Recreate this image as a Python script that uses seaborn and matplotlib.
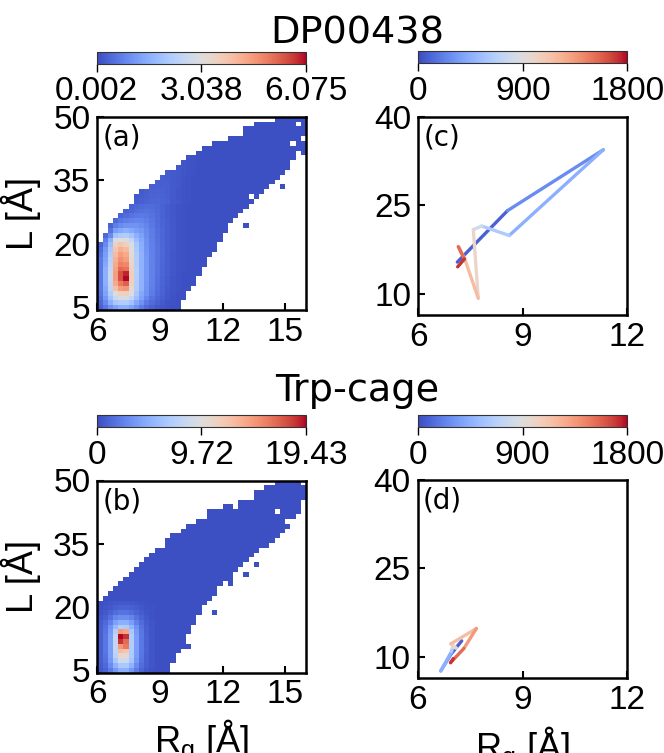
import numpy as np
import pandas as pd
import matplotlib
matplotlib.use("Agg")
import matplotlib.pyplot as plt
from matplotlib.colors import Normalize
from matplotlib.cm import ScalarMappable
import seaborn as sns

# ---------------- data ----------------
# 2D histogram layout: 40 x 40 bins, Rg 6..16, L 4.4..50
RG_RANGE = (6.0, 16.0)
L_RANGE = (4.4, 50.0)
NBINS = 40

# panel (a) DP00438: occupied band per Rg column (upper / lower L edge)
A_TOP = [20.1, 22.5, 24.5, 25.6, 27.6, 28.8, 30.0, 31.2, 32.4, 33.2, 34.4, 35.2, 36.0, 37.1,
         38.0, 39.0, 39.9, 40.7, 40.7, 41.9, 43.0, 43.0, 44.7, 44.7, 44.7, 45.9, 45.9, 45.9,
         47.2, 47.2, 48.3, 48.3, 49.4, 49.4, 50.0, 50.0, 50.0, 50.0, 50.0, 50.0]
A_LOW = [4.4, 4.4, 4.4, 4.4, 4.4, 4.4, 4.4, 4.4, 4.4, 4.4, 4.4, 4.4, 4.4, 4.4, 4.4, 4.4,
         7.0, 9.0, 10.5, 13.0, 15.0, 17.0, 18.5, 20.5, 23.0, 24.5, 26.0, 27.0, 28.5, 29.5,
         30.5, 32.0, 33.0, 33.5, 35.0, 36.5, 38.0, 40.0, 42.0, 41.0]
A_BASE = 0.06
# density near the peak and along the ridge (rows = L bins from bottom, cols = Rg bins from 6.0)
A_CORE = [
    [0.30, 0.60, 1.00, 1.30, 1.50, 1.50, 1.30, 1.00, 0.70, 0.45, 0.30, 0.20, 0.13, 0.09, 0.06, 0.05, 0.06, 0.06, 0.06, 0.06],
    [0.40, 0.90, 1.50, 2.00, 2.20, 2.20, 1.90, 1.40, 1.00, 0.65, 0.45, 0.30, 0.20, 0.12, 0.08, 0.05, 0.06, 0.06, 0.06, 0.06],
    [0.50, 1.10, 1.90, 2.60, 2.90, 2.90, 2.50, 1.80, 1.30, 0.85, 0.55, 0.37, 0.24, 0.15, 0.09, 0.06, 0.06, 0.06, 0.06, 0.06],
    [0.60, 1.30, 2.20, 3.00, 3.50, 3.50, 3.00, 2.00, 1.40, 1.00, 0.68, 0.45, 0.30, 0.19, 0.11, 0.07, 0.06, 0.06, 0.06, 0.06],
    [0.65, 1.40, 2.40, 3.90, 4.50, 4.60, 3.30, 2.20, 1.55, 1.05, 0.72, 0.48, 0.32, 0.21, 0.13, 0.08, 0.07, 0.06, 0.06, 0.06],
    [0.65, 1.50, 2.50, 4.30, 5.00, 5.30, 3.50, 2.20, 1.55, 1.08, 0.74, 0.50, 0.34, 0.22, 0.14, 0.08, 0.07, 0.06, 0.06, 0.06],
    [0.65, 1.50, 2.60, 4.50, 5.50, 6.07, 3.60, 2.25, 1.58, 1.10, 0.76, 0.52, 0.35, 0.23, 0.14, 0.09, 0.07, 0.06, 0.06, 0.06],
    [0.65, 1.50, 2.60, 4.50, 5.50, 5.90, 3.60, 2.25, 1.58, 1.10, 0.77, 0.53, 0.36, 0.24, 0.15, 0.09, 0.07, 0.06, 0.06, 0.06],
    [0.65, 1.50, 2.50, 4.40, 5.20, 5.10, 3.50, 2.25, 1.58, 1.10, 0.78, 0.54, 0.37, 0.24, 0.15, 0.10, 0.08, 0.07, 0.06, 0.06],
    [0.65, 1.40, 2.40, 4.30, 4.90, 4.80, 3.40, 2.20, 1.57, 1.10, 0.78, 0.55, 0.38, 0.25, 0.16, 0.10, 0.08, 0.07, 0.06, 0.06],
    [0.65, 1.30, 2.30, 4.20, 4.70, 4.50, 3.30, 2.20, 1.56, 1.10, 0.78, 0.56, 0.38, 0.25, 0.16, 0.10, 0.08, 0.07, 0.06, 0.06],
    [0.55, 1.20, 2.20, 4.00, 4.50, 4.30, 3.20, 2.20, 1.55, 1.08, 0.77, 0.56, 0.39, 0.26, 0.16, 0.10, 0.08, 0.07, 0.06, 0.06],
    [0.45, 1.10, 2.00, 3.80, 4.20, 4.00, 3.10, 2.10, 1.52, 1.06, 0.76, 0.55, 0.39, 0.26, 0.17, 0.10, 0.08, 0.07, 0.06, 0.06],
    [0.35, 0.90, 1.80, 3.50, 3.80, 3.60, 2.90, 2.00, 1.48, 1.04, 0.75, 0.54, 0.38, 0.26, 0.17, 0.11, 0.08, 0.07, 0.06, 0.06],
    [0.25, 0.70, 1.50, 2.90, 3.00, 2.90, 2.50, 1.80, 1.40, 1.00, 0.73, 0.53, 0.38, 0.26, 0.17, 0.11, 0.08, 0.07, 0.06, 0.06],
    [0.20, 0.40, 0.90, 1.90, 2.10, 2.20, 1.90, 1.50, 1.25, 0.95, 0.70, 0.51, 0.37, 0.26, 0.17, 0.11, 0.08, 0.07, 0.06, 0.06],
    [0.15, 0.25, 0.55, 1.20, 1.40, 1.50, 1.40, 1.20, 1.10, 0.88, 0.67, 0.49, 0.36, 0.25, 0.17, 0.11, 0.08, 0.07, 0.06, 0.06],
    [0.10, 0.18, 0.35, 0.70, 0.90, 1.00, 1.00, 1.00, 0.95, 0.80, 0.62, 0.47, 0.35, 0.25, 0.17, 0.11, 0.08, 0.07, 0.06, 0.06],
    [0.08, 0.14, 0.20, 0.40, 0.60, 0.70, 0.78, 0.82, 0.80, 0.72, 0.58, 0.45, 0.34, 0.24, 0.16, 0.11, 0.08, 0.07, 0.06, 0.06],
    [0.06, 0.10, 0.16, 0.25, 0.35, 0.45, 0.55, 0.62, 0.66, 0.63, 0.54, 0.43, 0.33, 0.23, 0.16, 0.11, 0.08, 0.07, 0.06, 0.06],
    [0.06, 0.08, 0.12, 0.18, 0.22, 0.30, 0.38, 0.46, 0.52, 0.55, 0.50, 0.42, 0.32, 0.23, 0.16, 0.11, 0.08, 0.07, 0.06, 0.06],
    [0.06, 0.06, 0.10, 0.14, 0.18, 0.24, 0.30, 0.36, 0.42, 0.46, 0.45, 0.40, 0.31, 0.22, 0.15, 0.11, 0.08, 0.07, 0.06, 0.06],
    [0.06, 0.06, 0.08, 0.10, 0.14, 0.16, 0.18, 0.23, 0.28, 0.33, 0.38, 0.38, 0.35, 0.29, 0.21, 0.15, 0.11, 0.08, 0.07, 0.06],
    [0.06, 0.06, 0.06, 0.08, 0.10, 0.12, 0.14, 0.18, 0.23, 0.28, 0.32, 0.34, 0.32, 0.27, 0.20, 0.14, 0.10, 0.08, 0.07, 0.06],
    [0.06, 0.06, 0.06, 0.06, 0.08, 0.10, 0.12, 0.14, 0.20, 0.25, 0.29, 0.31, 0.30, 0.26, 0.20, 0.14, 0.10, 0.08, 0.07, 0.06],
    [0.06, 0.06, 0.06, 0.06, 0.06, 0.08, 0.10, 0.12, 0.15, 0.22, 0.26, 0.28, 0.28, 0.25, 0.20, 0.15, 0.11, 0.08, 0.07, 0.06],
    [0.06, 0.06, 0.06, 0.06, 0.06, 0.06, 0.08, 0.10, 0.12, 0.16, 0.23, 0.25, 0.26, 0.24, 0.20, 0.15, 0.11, 0.08, 0.07, 0.06],
    [0.06, 0.06, 0.06, 0.06, 0.06, 0.06, 0.06, 0.08, 0.10, 0.12, 0.16, 0.22, 0.24, 0.23, 0.20, 0.16, 0.12, 0.09, 0.07, 0.06],
    [0.06, 0.06, 0.06, 0.06, 0.06, 0.06, 0.06, 0.06, 0.08, 0.10, 0.12, 0.16, 0.21, 0.22, 0.20, 0.17, 0.13, 0.10, 0.08, 0.06],
    [0.06, 0.06, 0.06, 0.06, 0.06, 0.06, 0.06, 0.06, 0.06, 0.08, 0.10, 0.12, 0.16, 0.20, 0.19, 0.17, 0.14, 0.11, 0.08, 0.06],
    [0.06, 0.06, 0.06, 0.06, 0.06, 0.06, 0.06, 0.06, 0.06, 0.06, 0.08, 0.10, 0.12, 0.15, 0.18, 0.16, 0.14, 0.11, 0.09, 0.07],
    [0.06, 0.06, 0.06, 0.06, 0.06, 0.06, 0.06, 0.06, 0.06, 0.06, 0.06, 0.08, 0.10, 0.12, 0.14, 0.15, 0.13, 0.11, 0.09, 0.07],
]
A_EXTRA = [(13.125, 24.9), (14.875, 33.6), (10.875, 13.4), (12.125, 22.8)]
A_HOLES = [(15.375, 43.3), (13.375, 31.5), (15.875, 44.5), (15.625, 47.9)]
A_CBAR = (0.002, 3.038, 6.075)

# panel (b) Trp-cage
B_TOP = [21.0, 22.4, 23.4, 25.3, 26.6, 27.7, 28.7, 29.7, 30.7, 31.6, 32.6, 33.7, 34.6, 36.6,
         37.4, 37.4, 38.7, 39.5, 39.5, 40.9, 40.9, 42.9, 42.9, 42.9, 44.1, 44.1, 44.1, 45.8,
         45.8, 45.8, 47.6, 47.6, 48.8, 48.8, 50.0, 50.0, 50.0, 50.0, 50.0, 49.0]
B_LOW = [4.4, 4.4, 4.4, 4.4, 4.4, 4.4, 4.4, 4.4, 4.4, 4.4, 4.4, 4.4, 4.4, 4.4,
         6.5, 8.5, 10.5, 13.0, 16.0, 18.5, 20.0, 21.5, 23.0, 24.5, 25.5, 26.5, 28.0, 29.0,
         31.0, 32.0, 33.0, 33.5, 34.5, 35.5, 36.5, 37.5, 39.0, 40.5, 42.0, 45.0]
B_BASE = 0.2
B_CORE = [
    [0.6, 1.0, 2.2, 3.5, 4.8, 4.8, 3.5, 2.2, 1.2, 0.6, 0.35],
    [0.7, 1.3, 2.9, 5.0, 6.6, 6.6, 5.0, 2.9, 1.5, 0.8, 0.4],
    [0.8, 1.6, 3.5, 6.5, 8.7, 8.5, 6.3, 3.5, 1.8, 0.9, 0.45],
    [0.9, 1.8, 3.8, 7.5, 10.7, 10.3, 6.8, 3.8, 1.9, 0.9, 0.45],
    [0.9, 1.9, 3.9, 7.8, 12.6, 12.0, 6.9, 3.9, 2.0, 0.95, 0.45],
    [0.9, 1.9, 3.9, 8.0, 14.6, 16.0, 7.0, 3.9, 2.0, 0.95, 0.45],
    [0.9, 1.9, 3.9, 8.0, 18.5, 16.5, 7.0, 3.9, 2.0, 0.95, 0.45],
    [0.9, 1.9, 3.9, 8.0, 19.43, 18.5, 7.0, 3.9, 2.0, 0.95, 0.45],
    [0.85, 1.8, 3.7, 7.0, 14.6, 14.0, 6.6, 3.7, 1.9, 0.9, 0.45],
    [0.8, 1.6, 3.2, 5.5, 7.0, 6.8, 5.2, 3.2, 1.7, 0.85, 0.4],
    [0.7, 1.3, 2.4, 4.0, 4.9, 4.8, 3.9, 2.4, 1.4, 0.75, 0.4],
    [0.5, 0.9, 1.6, 2.6, 3.0, 3.0, 2.6, 1.7, 1.0, 0.6, 0.35],
    [0.35, 0.6, 1.0, 1.5, 1.8, 1.8, 1.5, 1.1, 0.7, 0.45, 0.3],
    [0.25, 0.4, 0.6, 0.8, 1.0, 1.0, 0.9, 0.7, 0.5, 0.35, 0.25],
    [0.2, 0.3, 0.4, 0.5, 0.55, 0.55, 0.5, 0.45, 0.35, 0.28, 0.22],
]
B_EXTRA = [(13.625, 29.5), (13.125, 28.3), (12.375, 25.9), (11.625, 19.0), (10.375, 10.5)]
B_HOLES = [(14.625, 43.0), (15.125, 39.8), (12.625, 44.0)]
B_CBAR = (0.0, 9.72, 19.43)

# panels (c), (d): time-coloured trajectories (time in ns)
C_TIME = [0, 180, 360, 540, 720, 900, 1080, 1260, 1440, 1620, 1800]
C_RG = [7.12, 8.56, 11.31, 8.61, 7.82, 7.58, 7.72, 7.33, 7.15, 7.32, 7.13]
C_L = [15.4, 24.1, 34.4, 19.9, 21.5, 20.9, 9.3, 16.0, 18.0, 15.9, 14.6]
D_TIME = [0, 180, 360, 540, 720, 900, 1080, 1260, 1440, 1620, 1800]
D_RG = [7.26, 6.96, 6.66, 6.97, 7.00, 7.10, 6.95, 7.68, 7.32, 6.94, 7.02]
D_L = [12.7, 10.5, 7.6, 10.9, 11.6, 11.5, 12.2, 14.8, 11.4, 9.0, 9.7]
T_CBAR = (0, 900, 1800)

TITLES = ["DP00438", "Trp-cage"]
PANEL_LABELS = ["(a)", "(b)", "(c)", "(d)"]

# ---------------- helpers ----------------
dx = (RG_RANGE[1] - RG_RANGE[0]) / NBINS
dy = (L_RANGE[1] - L_RANGE[0]) / NBINS


def cell_index(x, y):
    return int((x - RG_RANGE[0]) // dx), int((y - L_RANGE[0]) // dy)


def build_hist(top, low, core, base, extra, holes):
    cells = {}
    for i in range(NBINS):
        xc = RG_RANGE[0] + (i + 0.5) * dx
        for j in range(NBINS):
            yc = L_RANGE[0] + (j + 0.5) * dy
            if low[i] < yc < top[i]:
                if j < len(core) and i < len(core[0]):
                    v = core[j][i]
                else:
                    v = base
                cells[(i, j)] = (xc, yc, v)
    for (x, y) in extra:
        i, j = cell_index(x, y)
        cells[(i, j)] = (RG_RANGE[0] + (i + 0.5) * dx, L_RANGE[0] + (j + 0.5) * dy, base)
    for (x, y) in holes:
        cells.pop(cell_index(x, y), None)
    return pd.DataFrame(list(cells.values()), columns=["rg", "L", "w"])


def build_segments(t, x, y):
    recs = []
    for k in range(len(t) - 1):
        tm = 0.5 * (t[k] + t[k + 1])
        recs.append(dict(seg=k, t=tm, rg=x[k], L=y[k]))
        recs.append(dict(seg=k, t=tm, rg=x[k + 1], L=y[k + 1]))
    return pd.DataFrame(recs)


# ---------------- style ----------------
sns.set_style("ticks")
plt.rcParams["font.family"] = ["Liberation Sans", "DejaVu Sans"]
plt.rcParams["mathtext.fontset"] = "custom"
plt.rcParams["mathtext.rm"] = "Liberation Sans"
plt.rcParams["mathtext.it"] = "Liberation Sans:italic"
plt.rcParams["axes.linewidth"] = 1.8
for key in ["text.color", "axes.labelcolor", "xtick.color", "ytick.color", "axes.edgecolor"]:
    plt.rcParams[key] = "black"
TICK_FS = 24
LABEL_FS = 26

W, H = 664, 753
fig = plt.figure(figsize=(W / 100, H / 100), dpi=100)


def rect(x0, x1, y0, y1):
    return [x0 / W, 1 - y1 / H, (x1 - x0) / W, (y1 - y0) / H]


ax_a = fig.add_axes(rect(97.3, 306, 116.7, 310))
ax_c = fig.add_axes(rect(418.3, 627.3, 116.7, 315))
ax_b = fig.add_axes(rect(97.3, 306, 480.5, 672.5))
ax_d = fig.add_axes(rect(417.7, 627.3, 480, 677.7))
cax_a = fig.add_axes(rect(96.7, 306, 51.5, 63.5))
cax_c = fig.add_axes(rect(418.3, 627.3, 51.0, 63.0))
cax_b = fig.add_axes(rect(96.7, 306, 415, 427))
cax_d = fig.add_axes(rect(417.7, 627.3, 415, 427))


def style_cbar(cax, ticks):
    cax.set_xticks(ticks)
    cax.set_xticklabels(["%g" % v for v in ticks])
    cax.tick_params(axis="x", direction="out", length=6, width=1.0, labelsize=TICK_FS, pad=3,
                    colors="black")
    cax.tick_params(axis="y", left=False, right=False, labelleft=False)
    for sp in cax.spines.values():
        sp.set_linewidth(0.8)
        sp.set_color("#333333")


def style_axes(ax, xticks, yticks, xlim, ylim):
    ax.set_xlim(*xlim)
    ax.set_ylim(*ylim)
    ax.set_xticks(xticks)
    ax.set_yticks(yticks)
    ax.tick_params(direction="in", length=5, width=1.5, labelsize=TICK_FS, pad=5,
                   top=False, right=False, colors="black")
    ax.set_xlabel("")
    ax.set_ylabel("")
    for sp in ax.spines.values():
        sp.set_visible(True)
        sp.set_linewidth(1.8)
        sp.set_color("black")


# heatmaps
for ax, cax, top, low, core, base, extra, holes, cb in [
    (ax_a, cax_a, A_TOP, A_LOW, A_CORE, A_BASE, A_EXTRA, A_HOLES, A_CBAR),
    (ax_b, cax_b, B_TOP, B_LOW, B_CORE, B_BASE, B_EXTRA, B_HOLES, B_CBAR),
]:
    df = build_hist(top, low, core, base, extra, holes)
    sns.histplot(data=df, x="rg", y="L", weights="w", bins=(NBINS, NBINS),
                 binrange=(RG_RANGE, L_RANGE), cmap="coolwarm", vmin=cb[0], vmax=cb[2],
                 cbar=True, cbar_ax=cax, cbar_kws={"orientation": "horizontal"}, ax=ax)
    style_axes(ax, [6, 9, 12, 15], [5, 20, 35, 50], RG_RANGE, L_RANGE)
    style_cbar(cax, list(cb))
    ax.set_ylabel("L [Å]", fontsize=LABEL_FS)
    ax.yaxis.set_label_coords(-0.27, 0.5)

# trajectories
tnorm = Normalize(T_CBAR[0], T_CBAR[2])
for ax, cax, t, x, y in [(ax_c, cax_c, C_TIME, C_RG, C_L), (ax_d, cax_d, D_TIME, D_RG, D_L)]:
    seg = build_segments(t, x, y)
    sns.lineplot(data=seg, x="rg", y="L", hue="t", units="seg", estimator=None,
                 palette="coolwarm", hue_norm=(T_CBAR[0], T_CBAR[2]), sort=False,
                 legend=False, lw=2.4, ax=ax)
    style_axes(ax, [6, 9, 12], [10, 25, 40], (6, 12), (6.45, 40))
    sm = ScalarMappable(norm=tnorm, cmap=sns.color_palette("coolwarm", as_cmap=True))
    fig.colorbar(sm, cax=cax, orientation="horizontal")
    style_cbar(cax, list(T_CBAR))

for ax in (ax_b, ax_d):
    ax.set_xlabel(r"R$_\mathrm{g}$ [Å]", fontsize=LABEL_FS)
    ax.xaxis.set_label_coords(0.5, -0.235)

for ax, lab in zip([ax_a, ax_b, ax_c, ax_d], PANEL_LABELS):
    ax.text(0.025, 0.965, lab, transform=ax.transAxes, ha="left", va="top",
            fontsize=20, family="DejaVu Sans", color="black")

fig.text(357 / W, 1 - 44 / H, TITLES[0], ha="center", va="baseline", fontsize=27.5,
         family="DejaVu Sans", color="black")
fig.text(357 / W, 1 - 401 / H, TITLES[1], ha="center", va="baseline", fontsize=27.5,
         family="DejaVu Sans", color="black")

fig.savefig("out.png", dpi=100)
